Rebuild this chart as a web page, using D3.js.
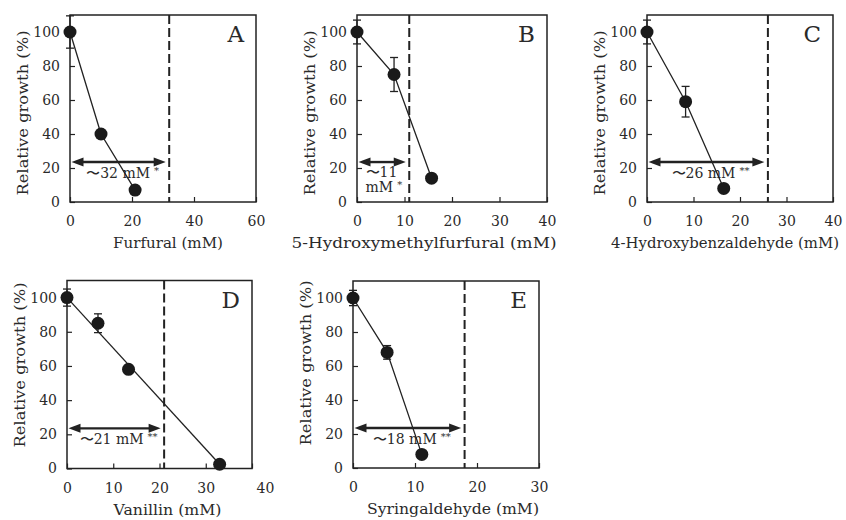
<!DOCTYPE html>
<html>
<head>
<meta charset="utf-8">
<script src="https://cdn.jsdelivr.net/npm/d3@7"></script>
<style>
  body { margin: 0; background: #fff; }
  text { font-family: "DejaVu Serif", "Liberation Serif", serif; fill: #2a2a2a; }
</style>
</head>
<body>
<svg id="chart" width="846" height="520"></svg>
<script>
// --- data ---
const panelLetters = ["A", "B", "C", "D", "E"];
const xTitles = ["Furfural (mM)", "5-Hydroxymethylfurfural (mM)", "4-Hydroxybenzaldehyde (mM)", "Vanillin (mM)", "Syringaldehyde (mM)"];
const xMaxes = [60, 40, 40, 40, 30];
const xTicks = [[0, 20, 40, 60], [0, 10, 20, 30, 40], [0, 10, 20, 30, 40], [0, 10, 20, 30, 40], [0, 10, 20, 30]];
const yTicks = [0, 20, 40, 60, 80, 100];

const furfuralConc = [0, 10, 21];
const furfuralGrowth = [100, 40, 7];
const furfuralErr = [9.5, 0, 0];

const hmfConc = [0, 7.8, 15.7];
const hmfGrowth = [100, 75, 14];
const hmfErr = [7, 10, 0];

const hbaConc = [0, 8.3, 16.5];
const hbaGrowth = [100, 59, 8];
const hbaErr = [7, 9, 0];

const vanillinConc = [0, 6.7, 13.3, 33];
const vanillinGrowth = [100, 85, 58, 2.5];
const vanillinErr = [5, 5.5, 0, 0];

const syringConc = [0, 5.5, 11.1];
const syringGrowth = [100, 68, 8];
const syringErr = [4.5, 4, 0];

const thresholds = [32, 11, 26, 21, 18];
const thresholdText = [["〜32 mM", "*"], ["〜11", "mM", "*"], ["〜26 mM", "**"], ["〜21 mM", "**"], ["〜18 mM", "**"]];
const arrowLevel = 23.5;

const series = [
  { conc: furfuralConc, growth: furfuralGrowth, err: furfuralErr, fit: false },
  { conc: hmfConc, growth: hmfGrowth, err: hmfErr, fit: false },
  { conc: hbaConc, growth: hbaGrowth, err: hbaErr, fit: false },
  { conc: vanillinConc, growth: vanillinGrowth, err: vanillinErr, fit: true }, // straight line first->last
  { conc: syringConc, growth: syringGrowth, err: syringErr, fit: false }
];

// --- layout (pixels) ---
const layout = [
  { left: 70, top: 15, w: 186, h: 187, titleDx: 5, titleLen: 110, yTitleCy: 98 },
  { left: 357, top: 15, w: 190, h: 187, titleDx: -28, titleLen: 265, yTitleCy: 98 },
  { left: 647, top: 15, w: 186, h: 187, titleDx: -15, titleLen: 228, yTitleCy: 98 },
  { left: 67, top: 280.5, w: 185, h: 188, titleDx: 8, titleLen: 108, yTitleCy: 365 - 280.5 },
  { left: 353, top: 281, w: 186, h: 187, titleDx: 7, titleLen: 172, yTitleCy: 363 - 281 }
];

const ink = "#222";
const svg = d3.select("#chart");

panelLetters.forEach((letter, i) => {
  const L = layout[i];
  const s = series[i];
  const g = svg.append("g").attr("transform", `translate(${L.left},${L.top})`);
  const x = d3.scaleLinear().domain([0, xMaxes[i]]).range([0, L.w]);
  const y = d3.scaleLinear().domain([0, 110]).range([L.h, 0]);

  // axes, ticks point inward
  const xAxis = g.append("g").attr("transform", `translate(0,${L.h})`)
    .call(d3.axisBottom(x).tickValues(xTicks[i]).tickSizeInner(-5).tickSizeOuter(0).tickPadding(14.5));
  const yAxis = g.append("g")
    .call(d3.axisLeft(y).tickValues(yTicks).tickSizeInner(-5).tickSizeOuter(0).tickPadding(10));
  [xAxis, yAxis].forEach(a => {
    a.select(".domain").remove();
    a.selectAll("line").attr("stroke", ink).attr("stroke-width", 1.2);
    a.selectAll("text").attr("font-size", 14).attr("font-family", null).style("fill", "#2a2a2a");
  });
  // D's last x label sits off to the right in the original
  if (i === 3) xAxis.selectAll(".tick").filter(d => d === 40).select("text").attr("dx", 13);

  // frame
  g.append("rect").attr("width", L.w).attr("height", L.h)
    .attr("fill", "none").attr("stroke", ink).attr("stroke-width", 1.5);

  // threshold dashed line
  g.append("line")
    .attr("x1", x(thresholds[i])).attr("x2", x(thresholds[i]))
    .attr("y1", 0).attr("y2", L.h)
    .attr("stroke", ink).attr("stroke-width", 2).attr("stroke-dasharray", "9,4");

  // double arrow
  const ax0 = x(0) + 1.5, ax1 = x(thresholds[i]) - 3.5, ay = y(arrowLevel);
  const headL = 12, headH = 4.5;
  g.append("line").attr("x1", ax0 + headL - 1).attr("x2", ax1 - headL + 1)
    .attr("y1", ay).attr("y2", ay).attr("stroke", ink).attr("stroke-width", 2.4);
  g.append("path")
    .attr("d", `M${ax0},${ay}L${ax0 + headL},${ay - headH}L${ax0 + headL},${ay + headH}Z`)
    .attr("fill", ink);
  g.append("path")
    .attr("d", `M${ax1},${ay}L${ax1 - headL},${ay - headH}L${ax1 - headL},${ay + headH}Z`)
    .attr("fill", ink);

  // arrow label
  const tt = thresholdText[i];
  if (tt.length === 2) {
    const t = g.append("text").attr("x", (ax0 + ax1) / 2 + 4).attr("y", ay + 16)
      .attr("text-anchor", "middle").attr("font-size", 14);
    t.append("tspan").text(tt[0]);
    t.append("tspan").attr("dx", 4).attr("dy", -4).attr("font-size", 10).text(tt[1]);
  } else {
    g.append("text").attr("x", ax0 + 7).attr("y", ay + 15).attr("font-size", 14).text(tt[0]);
    const t = g.append("text").attr("x", ax0 + 7).attr("y", ay + 30).attr("font-size", 14);
    t.append("tspan").text(tt[1]);
    t.append("tspan").attr("dx", 4).attr("dy", -4).attr("font-size", 10).text(tt[2]);
  }

  // data line
  const pts = s.conc.map((c, k) => [c, s.growth[k]]);
  const linePts = s.fit ? [pts[0], pts[pts.length - 1]] : pts;
  g.append("path")
    .attr("d", d3.line().x(d => x(d[0])).y(d => y(d[1]))(linePts))
    .attr("fill", "none").attr("stroke", ink).attr("stroke-width", 1.3);

  // error bars
  const eb = g.selectAll(".eb").data(pts.map((p, k) => [p[0], p[1], s.err[k]]).filter(d => d[2] > 0))
    .join("g");
  eb.append("line").attr("x1", d => x(d[0])).attr("x2", d => x(d[0]))
    .attr("y1", d => y(d[1] - d[2])).attr("y2", d => y(d[1] + d[2]))
    .attr("stroke", ink).attr("stroke-width", 1.3);
  [-1, 1].forEach(sign => {
    eb.append("line").attr("x1", d => x(d[0]) - 4).attr("x2", d => x(d[0]) + 4)
      .attr("y1", d => y(d[1] + sign * d[2])).attr("y2", d => y(d[1] + sign * d[2]))
      .attr("stroke", ink).attr("stroke-width", 1.3);
  });

  // points
  g.selectAll(".pt").data(pts).join("circle")
    .attr("cx", d => x(d[0])).attr("cy", d => y(d[1])).attr("r", 6.5).attr("fill", "#1a1a1a");

  // panel letter
  g.append("text").attr("x", L.w - 12).attr("y", 27).attr("text-anchor", "end")
    .attr("font-size", 23).text(letter);

  // axis titles
  g.append("text").attr("x", L.w / 2 + L.titleDx).attr("y", L.h + 46)
    .attr("text-anchor", "middle").attr("font-size", 15)
    .attr("textLength", L.titleLen).attr("lengthAdjust", "spacingAndGlyphs").text(xTitles[i]);
  g.append("text").attr("transform", `translate(-47,${L.yTitleCy}) rotate(-90)`)
    .attr("text-anchor", "middle").attr("dy", "0.35em").attr("font-size", 15.5)
    .attr("textLength", 165).attr("lengthAdjust", "spacingAndGlyphs").text("Relative growth (%)");
});
</script>
</body>
</html>
